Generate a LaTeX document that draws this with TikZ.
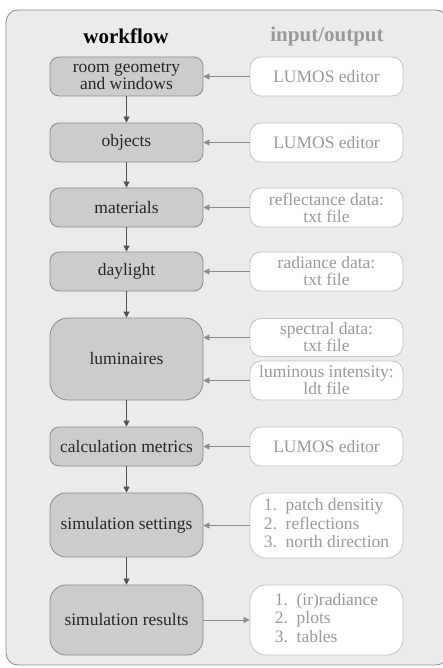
\documentclass[tikz,border=0pt]{standalone}
\usepackage{fontspec}
\setmainfont{Liberation Serif}
\usetikzlibrary{arrows.meta}
\definecolor{bgc}{HTML}{EBEBEB}
\definecolor{bgline}{HTML}{8A8A8A}
\definecolor{lfill}{HTML}{CCCCCC}
\definecolor{lline}{HTML}{8C8C8C}
\definecolor{rline}{HTML}{C4C4C4}
\definecolor{rtext}{HTML}{9A9A9A}
\definecolor{ltext}{HTML}{262626}
\definecolor{garrow}{HTML}{8C8C8C}
\tikzset{
  x=1pt, y=-1pt,
  wbox/.style={draw=lline, fill=lfill, line width=0.8pt, rounded corners=9pt,
    minimum width=153pt, text=ltext, font=\fontsize{17.5}{17}\selectfont, align=center, inner sep=0pt},
  iobox/.style={draw=rline, fill=white, line width=0.8pt, rounded corners=11pt,
    minimum width=153pt, text=rtext, font=\fontsize{17.5}{17}\selectfont, align=center, inner sep=0pt},
  varrow/.style={draw=ltext!80, line width=0.8pt, -{Triangle[length=6pt,width=6pt]}},
  harrow/.style={draw=garrow, line width=0.8pt, -{Triangle[length=6pt,width=6pt]}},
  title/.style={font=\fontsize{21}{22}\selectfont\bfseries, inner sep=0pt},
}
\newcommand{\listtab}[1]{\renewcommand{\arraystretch}{1.08}\begin{tabular}{@{}l@{}}#1\end{tabular}}
\begin{document}
\begin{tikzpicture}
\useasboundingbox (0,0) rectangle (443,668);
\draw[draw=bgline, fill=bgc, line width=0.8pt, rounded corners=12pt] (6,10) rectangle (448,665);
\node[title, text=black] (tw) at (126,36) {workflow};
\node[title, text=rtext] (tio) at (327,36) {input/output};
% left column
\node[wbox, minimum height=39pt] (w1) at (126.5,76.5) {room geometry\\and windows};
\node[wbox, minimum height=39pt] (w2) at (126.5,142.5) {objects};
\node[wbox, minimum height=39pt] (w3) at (126.5,207.5) {materials};
\node[wbox, minimum height=39pt] (w4) at (126.5,271.5) {daylight};
\node[wbox, minimum height=82pt, rounded corners=18pt] (w5) at (126.5,359) {luminaires};
\node[wbox, minimum height=39pt] (w6) at (126.5,446.5) {calculation metrics};
\node[wbox, minimum height=64pt, rounded corners=16pt] (w7) at (126.5,525) {simulation settings};
\node[wbox, minimum height=70pt, rounded corners=16pt] (w8) at (126.5,620) {simulation results};
% right column
\node[iobox, minimum height=39pt] (r1) at (326.5,76.5) {LUMOS editor};
\node[iobox, minimum height=39pt] (r2) at (326.5,142.5) {LUMOS editor};
\node[iobox, minimum height=39pt] (r3) at (326.5,207.5) {reflectance data:\\txt file};
\node[iobox, minimum height=39pt] (r4) at (326.5,271.5) {radiance data:\\txt file};
\node[iobox, minimum height=38pt] (r5a) at (326.5,337.5) {spectral data:\\txt file};
\node[iobox, minimum height=39pt] (r5b) at (326.5,380.5) {luminous intensity:\\ldt file};
\node[iobox, minimum height=39pt] (r6) at (326.5,446.5) {LUMOS editor};
\node[iobox, minimum height=65pt, rounded corners=16pt] (r7) at (326.5,525.5) {\listtab{1.\ \ patch densitiy\\2.\ \ reflections\\3.\ \ north direction}};
\node[iobox, minimum height=70pt, rounded corners=16pt] (r8) at (326.5,620) {\listtab{1.\ \ (ir)radiance\\2.\ \ plots\\3.\ \ tables}};
% vertical arrows
\foreach \a/\b in {w1/w2,w2/w3,w3/w4,w4/w5,w5/w6,w6/w7,w7/w8}
  \draw[varrow] (\a.south) -- (\b.north);
% horizontal arrows
\foreach \r in {r1,r2,r3,r4,r6,r7}
  \draw[harrow] (\r.west) -- (\r.west -| w1.east);
\draw[harrow] (r5a.west) -- (r5a.west -| w5.east);
\draw[harrow] (r5b.west) -- (r5b.west -| w5.east);
\draw[harrow] (w8.east) -- (r8.west);
\end{tikzpicture}
\end{document}
